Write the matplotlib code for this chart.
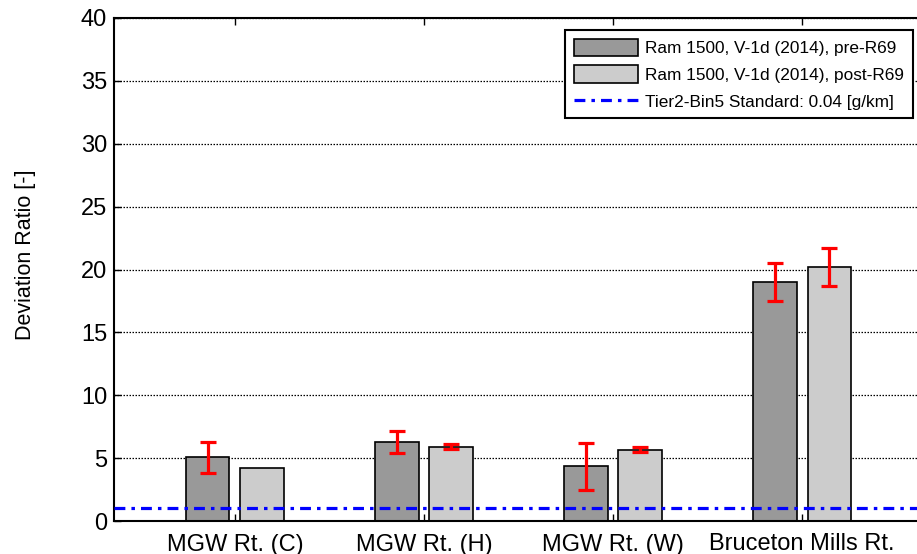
import matplotlib
matplotlib.use("Agg")
import matplotlib.pyplot as plt
import numpy as np

plt.rcParams['font.family'] = ['Liberation Sans', 'DejaVu Sans']

categories = ["MGW Rt. (C)", "MGW Rt. (H)", "MGW Rt. (W)", "Bruceton Mills Rt."]
pre_vals = [5.05, 6.30, 4.35, 19.0]
pre_err = [1.2, 0.87, 1.88, 1.53]
post_vals = [4.24, 5.90, 5.65, 20.17]
post_err = [None, 0.2, 0.2, 1.5]
standard = 1.0
series_labels = ["Ram 1500, V-1d (2014), pre-R69",
                 "Ram 1500, V-1d (2014), post-R69",
                 "Tier2-Bin5 Standard: 0.04 [g/km]"]
yticks = [0, 5, 10, 15, 20, 25, 30, 35, 40]

fig = plt.figure(figsize=(9.17, 5.54), dpi=100)
ax = fig.add_axes([114/917, 1-521/554, (923-114)/917, (521-18)/554])

x = np.arange(1, len(categories)+1)
w = 0.228
off = 0.143
b1 = ax.bar(x - off, pre_vals, w, color='#999999', edgecolor='black', linewidth=1.2,
            label=series_labels[0], zorder=2)
b2 = ax.bar(x + off, post_vals, w, color='#cccccc', edgecolor='black', linewidth=1.2,
            label=series_labels[1], zorder=2)

ekw = dict(fmt='none', ecolor='red', elinewidth=2.3, capsize=5.8, capthick=2.3, zorder=3)
ax.errorbar(x - off, pre_vals, yerr=pre_err, **ekw)
pe_x = [xi + off for xi, e in zip(x, post_err) if e is not None]
pe_y = [v for v, e in zip(post_vals, post_err) if e is not None]
pe_e = [e for e in post_err if e is not None]
ax.errorbar(pe_x, pe_y, yerr=pe_e, **ekw)

ln = ax.axhline(standard, color='blue', linestyle=(0, (3.4, 1.9, 1.1, 1.9)), linewidth=2.3,
                label=series_labels[2], zorder=4)

ax.set_xlim(0.36, 4.64)
ax.set_ylim(0, 40)
ax.set_yticks(yticks)
ax.set_xticks(x)
ax.set_xticklabels(categories, fontsize=17)
ax.tick_params(axis='y', labelsize=17, direction='in', length=5, width=1, pad=5)
ax.tick_params(axis='x', direction='in', length=5, width=1, top=True, pad=9)
ax.yaxis.grid(True, linestyle=(0, (1.2, 1.2)), color='black', linewidth=0.9)
ax.set_axisbelow(True)
for s in ax.spines.values():
    s.set_linewidth(1.5)
ax.set_ylabel("Deviation Ratio [-]", fontsize=15.5)
ax.yaxis.set_label_coords(-0.096, 0.53)

leg = ax.legend([b1, b2, ln], series_labels, loc='upper right',
                bbox_to_anchor=((913-114)/(923-114), (521-30)/(521-18)),
                fontsize=12.4, frameon=True, fancybox=False, edgecolor='black',
                handlelength=3.7, handleheight=1.15, borderaxespad=0, labelspacing=0.55,
                borderpad=0.5, handletextpad=0.45)
leg.get_frame().set_linewidth(1.5)
leg.get_frame().set_alpha(1)

fig.savefig("out.png", dpi=100)
